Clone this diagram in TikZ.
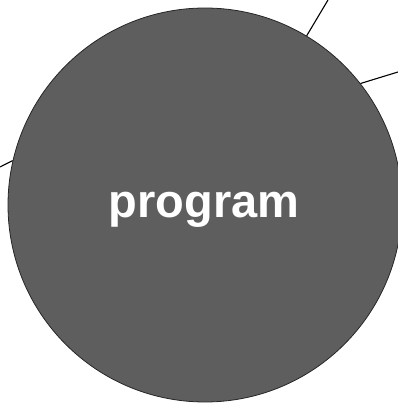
\documentclass[tikz,border=0pt]{standalone}
\usepackage{fontspec}
\setmainfont{Liberation Sans}
\usepackage{xcolor}
\usetikzlibrary{positioning}
\definecolor{proggray}{HTML}{5E5E5E}
\begin{document}
\begin{tikzpicture}[x=1pt,y=1pt,
    progcircle/.style={circle, draw=black!85, line width=0.8pt, fill=proggray, minimum size=394pt, inner sep=0pt},
    progtext/.style={text=white, font=\fontsize{47}{50}\selectfont\bfseries, inner sep=0pt},
    link/.style={draw=black, line width=1.1pt}]
    \useasboundingbox (0,0) rectangle (398,405);
    \node[progcircle] (prog) at (205,200) {};
    \node[progtext, anchor=base] (progname) at (204,187) {program};

    \coordinate (toptip) at (328,405);
    \coordinate (righttip) at (398,333);
    \coordinate (lefttip) at (0,238);

    \draw[link] (prog.59.3) -- (toptip);
    \draw[link] (prog.38.2) -- (righttip);
    \draw[link] (prog.167.8) -- (lefttip);
\end{tikzpicture}
\end{document}
